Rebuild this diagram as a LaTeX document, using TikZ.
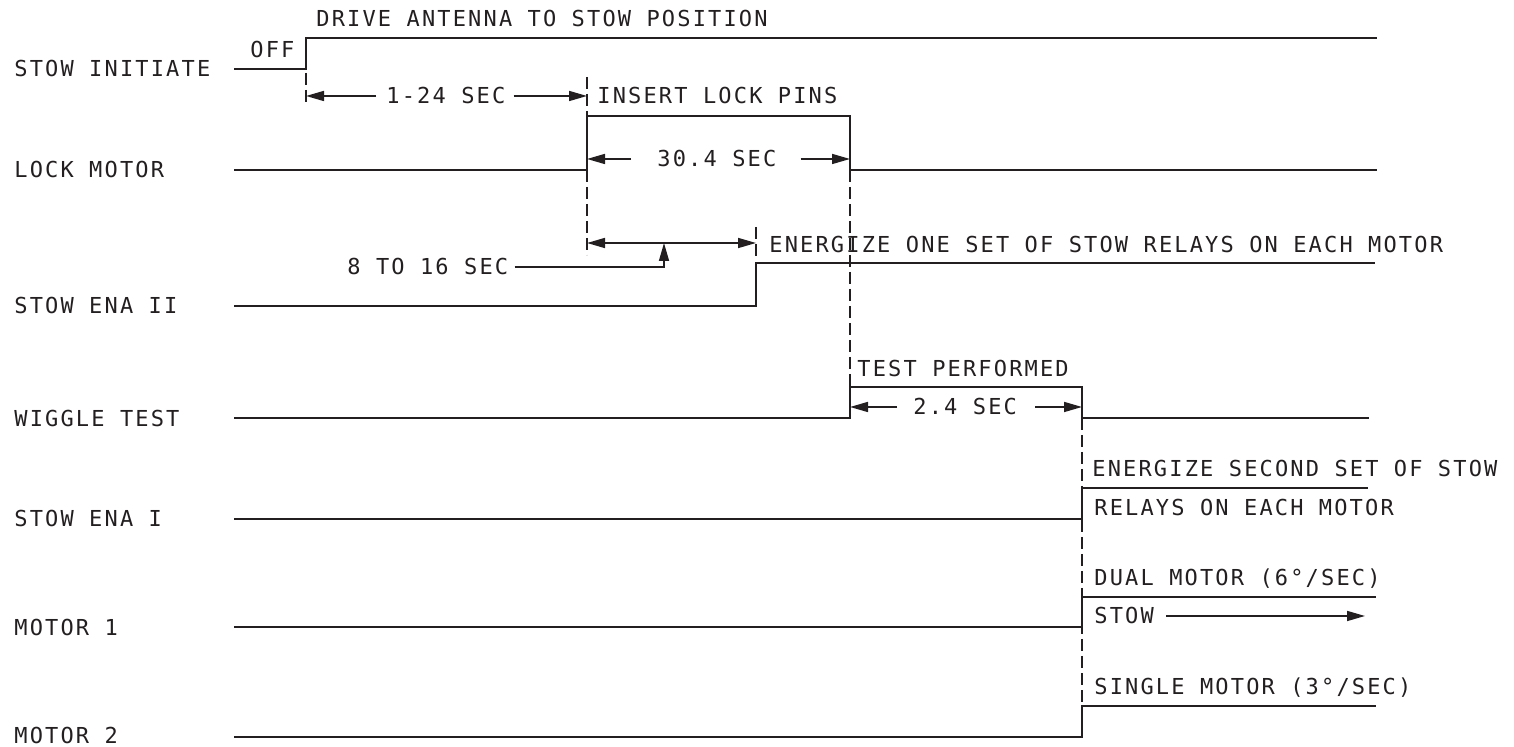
\documentclass[tikz,border=0pt]{standalone}
\usepackage{fontspec}
\usetikzlibrary{arrows.meta}
\newfontfamily\cadfont[LetterSpace=9.8]{DejaVu Sans Mono}

\begin{document}
\begin{tikzpicture}[x=0.5pt,y=0.5pt,
  wave/.style={ink,line width=1.2pt,line join=miter},
  ext/.style={ink,line width=0.8pt,dash pattern=on 6pt off 2.5pt},
  dim/.style={ink,line width=0.8pt},
  tip/.style={-{Triangle[length=9pt,width=5pt]}},
  txt/.style={text=ink,font=\cadfont\fontsize{11}{13}\selectfont,inner sep=0pt,anchor=base west}]
  \definecolor{ink}{RGB}{35,31,32}
  \useasboundingbox (0,0) rectangle (1514,-747);
  \coordinate (t1) at (306,0);
  \coordinate (t2) at (587,0);
  \coordinate (t3) at (756,0);
  \coordinate (t4) at (850,0);
  \coordinate (t5) at (1082,0);
  % signal names
  \node[txt] (sigstowinit) at (14,-77) {STOW INITIATE};
  \node[txt] (siglock) at (14,-178) {LOCK MOTOR};
  \node[txt] (sigenatwo) at (14,-314) {STOW ENA II};
  \node[txt] (sigwiggle) at (14,-427) {WIGGLE TEST};
  \node[txt] (sigenaone) at (14,-527) {STOW ENA I};
  \node[txt] (sigmotone) at (14,-636) {MOTOR 1};
  \node[txt] (sigmottwo) at (14,-743) {MOTOR 2};
  % waveforms
  \draw[wave] (234,-69) -- (306,-69) -- (306,-38) -- (1377,-38);
  \draw[wave] (234,-170) -- (587,-170) -- (587,-116) -- (850,-116) -- (850,-170) -- (1377,-170);
  \draw[wave] (234,-306) -- (756,-306) -- (756,-263) -- (1375,-263);
  \draw[wave] (234,-418) -- (850,-418) -- (850,-387) -- (1082,-387) -- (1082,-418) -- (1369,-418);
  \draw[wave] (234,-519) -- (1082,-519) -- (1082,-488) -- (1368,-488);
  \draw[wave] (234,-627) -- (1082,-627) -- (1082,-597) -- (1376,-597);
  \draw[wave] (234,-737) -- (1082,-737) -- (1082,-706) -- (1376,-706);
  % extension lines
  \draw[ext] (306,-73) -- (306,-106);
  \draw[ext] (587,-77) -- (587,-116);
  \draw[ext] (587,-170) -- (587,-255);
  \draw[ext] (756,-227) -- (756,-258);
  \draw[ext] (850,-170) -- (850,-387);
  \draw[ext] (1082,-418) -- (1082,-706);
  % event texts
  \node[txt] (drive) at (316,-27) {DRIVE ANTENNA TO STOW POSITION};
  \node[txt] (off) at (250,-58) {OFF};
  \node[txt] (insert) at (597,-104) {INSERT LOCK PINS};
  \node[txt] (energone) at (769,-253) {ENERGIZE ONE SET OF STOW RELAYS ON EACH MOTOR};
  \node[txt] (testperf) at (857,-377) {TEST PERFORMED};
  \node[txt] (energtwo) at (1092,-477) {ENERGIZE SECOND SET OF STOW};
  \node[txt] (relays) at (1094,-516) {RELAYS ON EACH MOTOR};
  \node[txt] (dual) at (1094,-586) {DUAL MOTOR (6°/SEC)};
  \node[txt] (stow) at (1094,-624) {STOW};
  \node[txt] (single) at (1094,-694) {SINGLE MOTOR (3°/SEC)};
  % durations
  \node[txt] (dur124) at (386,-104) {1-24 SEC};
  \node[txt] (dur304) at (657,-167) {30.4 SEC};
  \node[txt] (dur816) at (347,-275) {8 TO 16 SEC};
  \node[txt] (dur24) at (913,-415) {2.4 SEC};
  \coordinate (lead) at (664,-243);
  \coordinate (stowend) at (1365,0);
  \draw[dim,tip,shorten <=5pt] (dur124.west) -- (dur124.west -| t1);
  \draw[dim,tip,shorten <=4pt] (dur124.east) -- (dur124.east -| t2);
  \draw[dim,tip,shorten <=13pt] (dur304.west) -- (dur304.west -| t2);
  \draw[dim,tip,shorten <=12pt] (dur304.east) -- (dur304.east -| t4);
  \draw[dim,{Triangle[length=9pt,width=5pt]}-{Triangle[length=9pt,width=5pt]}] (t2 |- lead) -- (t3 |- lead);
  \draw[dim,tip,shorten <=3pt] (dur816.east) -| (lead);
  \draw[dim,tip,shorten <=8pt] (dur24.west) -- (dur24.west -| t4);
  \draw[dim,tip,shorten <=9pt] (dur24.east) -- (dur24.east -| t5);
  \draw[dim,tip,shorten <=6pt] (stow.east) -- (stow.east -| stowend);
\end{tikzpicture}
\end{document}
